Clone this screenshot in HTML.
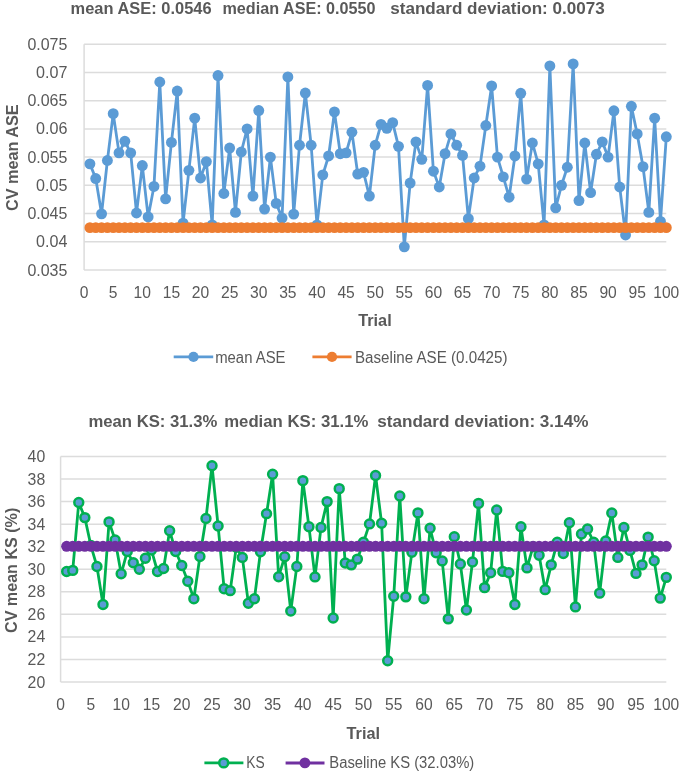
<!DOCTYPE html>
<html><head><meta charset="utf-8"><title>CV charts</title>
<style>html,body{margin:0;padding:0;background:#fff}svg{display:block}text{font-family:"Liberation Sans",sans-serif}</style></head><body>
<svg width="685" height="773" viewBox="0 0 685 773">
<rect width="685" height="773" fill="#fff"/>
<g style="filter:blur(0.45px)">
<line x1="84.1" x2="666.3" y1="44.20" y2="44.20" stroke="#DCDCDC" stroke-width="1.5"/>
<text x="67.4" y="49.80" font-size="15.7" text-anchor="end" font-weight="normal" fill="#595959" textLength="40.0" lengthAdjust="spacingAndGlyphs">0.075</text>
<line x1="84.1" x2="666.3" y1="72.43" y2="72.43" stroke="#DCDCDC" stroke-width="1.5"/>
<text x="67.4" y="78.03" font-size="15.7" text-anchor="end" font-weight="normal" fill="#595959" textLength="31.4" lengthAdjust="spacingAndGlyphs">0.07</text>
<line x1="84.1" x2="666.3" y1="100.65" y2="100.65" stroke="#DCDCDC" stroke-width="1.5"/>
<text x="67.4" y="106.25" font-size="15.7" text-anchor="end" font-weight="normal" fill="#595959" textLength="40.0" lengthAdjust="spacingAndGlyphs">0.065</text>
<line x1="84.1" x2="666.3" y1="128.88" y2="128.88" stroke="#DCDCDC" stroke-width="1.5"/>
<text x="67.4" y="134.47" font-size="15.7" text-anchor="end" font-weight="normal" fill="#595959" textLength="31.4" lengthAdjust="spacingAndGlyphs">0.06</text>
<line x1="84.1" x2="666.3" y1="157.10" y2="157.10" stroke="#DCDCDC" stroke-width="1.5"/>
<text x="67.4" y="162.70" font-size="15.7" text-anchor="end" font-weight="normal" fill="#595959" textLength="40.0" lengthAdjust="spacingAndGlyphs">0.055</text>
<line x1="84.1" x2="666.3" y1="185.32" y2="185.32" stroke="#DCDCDC" stroke-width="1.5"/>
<text x="67.4" y="190.92" font-size="15.7" text-anchor="end" font-weight="normal" fill="#595959" textLength="31.4" lengthAdjust="spacingAndGlyphs">0.05</text>
<line x1="84.1" x2="666.3" y1="213.55" y2="213.55" stroke="#DCDCDC" stroke-width="1.5"/>
<text x="67.4" y="219.15" font-size="15.7" text-anchor="end" font-weight="normal" fill="#595959" textLength="40.0" lengthAdjust="spacingAndGlyphs">0.045</text>
<line x1="84.1" x2="666.3" y1="241.78" y2="241.78" stroke="#DCDCDC" stroke-width="1.5"/>
<text x="67.4" y="247.38" font-size="15.7" text-anchor="end" font-weight="normal" fill="#595959" textLength="31.4" lengthAdjust="spacingAndGlyphs">0.04</text>
<line x1="84.1" x2="666.3" y1="270.00" y2="270.00" stroke="#DCDCDC" stroke-width="1.5"/>
<text x="67.4" y="275.60" font-size="15.7" text-anchor="end" font-weight="normal" fill="#595959" textLength="40.0" lengthAdjust="spacingAndGlyphs">0.035</text>
<line x1="84.1" x2="84.1" y1="44.2" y2="270.0" stroke="#DCDCDC" stroke-width="1.5"/>
<text x="84.10" y="297.7" font-size="15.7" text-anchor="middle" font-weight="normal" fill="#595959" textLength="8.7" lengthAdjust="spacingAndGlyphs">0</text>
<text x="113.21" y="297.7" font-size="15.7" text-anchor="middle" font-weight="normal" fill="#595959" textLength="8.7" lengthAdjust="spacingAndGlyphs">5</text>
<text x="142.32" y="297.7" font-size="15.7" text-anchor="middle" font-weight="normal" fill="#595959" textLength="17.4" lengthAdjust="spacingAndGlyphs">10</text>
<text x="171.43" y="297.7" font-size="15.7" text-anchor="middle" font-weight="normal" fill="#595959" textLength="17.4" lengthAdjust="spacingAndGlyphs">15</text>
<text x="200.54" y="297.7" font-size="15.7" text-anchor="middle" font-weight="normal" fill="#595959" textLength="17.4" lengthAdjust="spacingAndGlyphs">20</text>
<text x="229.65" y="297.7" font-size="15.7" text-anchor="middle" font-weight="normal" fill="#595959" textLength="17.4" lengthAdjust="spacingAndGlyphs">25</text>
<text x="258.76" y="297.7" font-size="15.7" text-anchor="middle" font-weight="normal" fill="#595959" textLength="17.4" lengthAdjust="spacingAndGlyphs">30</text>
<text x="287.87" y="297.7" font-size="15.7" text-anchor="middle" font-weight="normal" fill="#595959" textLength="17.4" lengthAdjust="spacingAndGlyphs">35</text>
<text x="316.98" y="297.7" font-size="15.7" text-anchor="middle" font-weight="normal" fill="#595959" textLength="17.4" lengthAdjust="spacingAndGlyphs">40</text>
<text x="346.09" y="297.7" font-size="15.7" text-anchor="middle" font-weight="normal" fill="#595959" textLength="17.4" lengthAdjust="spacingAndGlyphs">45</text>
<text x="375.20" y="297.7" font-size="15.7" text-anchor="middle" font-weight="normal" fill="#595959" textLength="17.4" lengthAdjust="spacingAndGlyphs">50</text>
<text x="404.31" y="297.7" font-size="15.7" text-anchor="middle" font-weight="normal" fill="#595959" textLength="17.4" lengthAdjust="spacingAndGlyphs">55</text>
<text x="433.42" y="297.7" font-size="15.7" text-anchor="middle" font-weight="normal" fill="#595959" textLength="17.4" lengthAdjust="spacingAndGlyphs">60</text>
<text x="462.53" y="297.7" font-size="15.7" text-anchor="middle" font-weight="normal" fill="#595959" textLength="17.4" lengthAdjust="spacingAndGlyphs">65</text>
<text x="491.64" y="297.7" font-size="15.7" text-anchor="middle" font-weight="normal" fill="#595959" textLength="17.4" lengthAdjust="spacingAndGlyphs">70</text>
<text x="520.75" y="297.7" font-size="15.7" text-anchor="middle" font-weight="normal" fill="#595959" textLength="17.4" lengthAdjust="spacingAndGlyphs">75</text>
<text x="549.86" y="297.7" font-size="15.7" text-anchor="middle" font-weight="normal" fill="#595959" textLength="17.4" lengthAdjust="spacingAndGlyphs">80</text>
<text x="578.97" y="297.7" font-size="15.7" text-anchor="middle" font-weight="normal" fill="#595959" textLength="17.4" lengthAdjust="spacingAndGlyphs">85</text>
<text x="608.08" y="297.7" font-size="15.7" text-anchor="middle" font-weight="normal" fill="#595959" textLength="17.4" lengthAdjust="spacingAndGlyphs">90</text>
<text x="637.19" y="297.7" font-size="15.7" text-anchor="middle" font-weight="normal" fill="#595959" textLength="17.4" lengthAdjust="spacingAndGlyphs">95</text>
<text x="666.30" y="297.7" font-size="15.7" text-anchor="middle" font-weight="normal" fill="#595959" textLength="26" lengthAdjust="spacingAndGlyphs">100</text>
<polyline points="89.92,163.87 95.74,178.55 101.57,213.83 107.39,160.49 113.21,113.63 119.03,152.87 124.85,141.29 130.68,152.87 136.50,212.99 142.32,165.57 148.14,216.94 153.96,186.45 159.79,82.02 165.61,198.87 171.43,142.42 177.25,91.05 183.07,223.15 188.90,170.37 194.72,118.15 200.54,177.99 206.36,161.62 212.18,224.84 218.01,75.53 223.83,193.51 229.65,148.07 235.47,212.42 241.29,152.02 247.12,128.88 252.94,196.05 258.76,110.53 264.58,209.03 270.40,157.10 276.23,203.39 282.05,218.07 287.87,76.94 293.69,214.11 299.51,145.25 305.34,93.03 311.16,145.25 316.98,224.84 322.80,174.83 328.62,155.97 334.45,111.94 340.27,153.71 346.09,152.87 351.91,132.26 357.73,174.04 363.56,172.34 369.38,196.05 375.20,145.25 381.02,124.36 386.84,128.31 392.67,122.67 398.49,146.37 404.31,246.86 410.13,183.07 415.95,141.86 421.78,159.36 427.60,85.41 433.42,171.21 439.24,187.02 445.06,153.71 450.89,133.96 456.71,145.25 462.53,155.41 468.35,218.63 474.17,177.99 480.00,166.13 485.82,125.49 491.64,85.97 497.46,157.10 503.28,176.86 509.11,197.18 514.93,155.97 520.75,93.31 526.57,179.12 532.39,142.99 538.22,163.87 544.04,224.84 549.86,65.93 555.68,207.91 561.50,185.32 567.33,167.26 573.15,63.96 578.97,200.57 584.79,142.99 590.61,192.66 596.44,154.28 602.26,141.86 608.08,157.10 613.90,110.81 619.72,187.02 625.55,235.00 631.37,106.29 637.19,133.96 643.01,166.70 648.83,212.42 654.66,118.15 660.48,221.45 666.30,136.78" fill="none" stroke="#5B9BD5" stroke-width="2.8" stroke-linejoin="round"/>
<circle cx="89.92" cy="163.87" r="5.45" fill="#5B9BD5"/>
<circle cx="95.74" cy="178.55" r="5.45" fill="#5B9BD5"/>
<circle cx="101.57" cy="213.83" r="5.45" fill="#5B9BD5"/>
<circle cx="107.39" cy="160.49" r="5.45" fill="#5B9BD5"/>
<circle cx="113.21" cy="113.63" r="5.45" fill="#5B9BD5"/>
<circle cx="119.03" cy="152.87" r="5.45" fill="#5B9BD5"/>
<circle cx="124.85" cy="141.29" r="5.45" fill="#5B9BD5"/>
<circle cx="130.68" cy="152.87" r="5.45" fill="#5B9BD5"/>
<circle cx="136.50" cy="212.99" r="5.45" fill="#5B9BD5"/>
<circle cx="142.32" cy="165.57" r="5.45" fill="#5B9BD5"/>
<circle cx="148.14" cy="216.94" r="5.45" fill="#5B9BD5"/>
<circle cx="153.96" cy="186.45" r="5.45" fill="#5B9BD5"/>
<circle cx="159.79" cy="82.02" r="5.45" fill="#5B9BD5"/>
<circle cx="165.61" cy="198.87" r="5.45" fill="#5B9BD5"/>
<circle cx="171.43" cy="142.42" r="5.45" fill="#5B9BD5"/>
<circle cx="177.25" cy="91.05" r="5.45" fill="#5B9BD5"/>
<circle cx="183.07" cy="223.15" r="5.45" fill="#5B9BD5"/>
<circle cx="188.90" cy="170.37" r="5.45" fill="#5B9BD5"/>
<circle cx="194.72" cy="118.15" r="5.45" fill="#5B9BD5"/>
<circle cx="200.54" cy="177.99" r="5.45" fill="#5B9BD5"/>
<circle cx="206.36" cy="161.62" r="5.45" fill="#5B9BD5"/>
<circle cx="212.18" cy="224.84" r="5.45" fill="#5B9BD5"/>
<circle cx="218.01" cy="75.53" r="5.45" fill="#5B9BD5"/>
<circle cx="223.83" cy="193.51" r="5.45" fill="#5B9BD5"/>
<circle cx="229.65" cy="148.07" r="5.45" fill="#5B9BD5"/>
<circle cx="235.47" cy="212.42" r="5.45" fill="#5B9BD5"/>
<circle cx="241.29" cy="152.02" r="5.45" fill="#5B9BD5"/>
<circle cx="247.12" cy="128.88" r="5.45" fill="#5B9BD5"/>
<circle cx="252.94" cy="196.05" r="5.45" fill="#5B9BD5"/>
<circle cx="258.76" cy="110.53" r="5.45" fill="#5B9BD5"/>
<circle cx="264.58" cy="209.03" r="5.45" fill="#5B9BD5"/>
<circle cx="270.40" cy="157.10" r="5.45" fill="#5B9BD5"/>
<circle cx="276.23" cy="203.39" r="5.45" fill="#5B9BD5"/>
<circle cx="282.05" cy="218.07" r="5.45" fill="#5B9BD5"/>
<circle cx="287.87" cy="76.94" r="5.45" fill="#5B9BD5"/>
<circle cx="293.69" cy="214.11" r="5.45" fill="#5B9BD5"/>
<circle cx="299.51" cy="145.25" r="5.45" fill="#5B9BD5"/>
<circle cx="305.34" cy="93.03" r="5.45" fill="#5B9BD5"/>
<circle cx="311.16" cy="145.25" r="5.45" fill="#5B9BD5"/>
<circle cx="316.98" cy="224.84" r="5.45" fill="#5B9BD5"/>
<circle cx="322.80" cy="174.83" r="5.45" fill="#5B9BD5"/>
<circle cx="328.62" cy="155.97" r="5.45" fill="#5B9BD5"/>
<circle cx="334.45" cy="111.94" r="5.45" fill="#5B9BD5"/>
<circle cx="340.27" cy="153.71" r="5.45" fill="#5B9BD5"/>
<circle cx="346.09" cy="152.87" r="5.45" fill="#5B9BD5"/>
<circle cx="351.91" cy="132.26" r="5.45" fill="#5B9BD5"/>
<circle cx="357.73" cy="174.04" r="5.45" fill="#5B9BD5"/>
<circle cx="363.56" cy="172.34" r="5.45" fill="#5B9BD5"/>
<circle cx="369.38" cy="196.05" r="5.45" fill="#5B9BD5"/>
<circle cx="375.20" cy="145.25" r="5.45" fill="#5B9BD5"/>
<circle cx="381.02" cy="124.36" r="5.45" fill="#5B9BD5"/>
<circle cx="386.84" cy="128.31" r="5.45" fill="#5B9BD5"/>
<circle cx="392.67" cy="122.67" r="5.45" fill="#5B9BD5"/>
<circle cx="398.49" cy="146.37" r="5.45" fill="#5B9BD5"/>
<circle cx="404.31" cy="246.86" r="5.45" fill="#5B9BD5"/>
<circle cx="410.13" cy="183.07" r="5.45" fill="#5B9BD5"/>
<circle cx="415.95" cy="141.86" r="5.45" fill="#5B9BD5"/>
<circle cx="421.78" cy="159.36" r="5.45" fill="#5B9BD5"/>
<circle cx="427.60" cy="85.41" r="5.45" fill="#5B9BD5"/>
<circle cx="433.42" cy="171.21" r="5.45" fill="#5B9BD5"/>
<circle cx="439.24" cy="187.02" r="5.45" fill="#5B9BD5"/>
<circle cx="445.06" cy="153.71" r="5.45" fill="#5B9BD5"/>
<circle cx="450.89" cy="133.96" r="5.45" fill="#5B9BD5"/>
<circle cx="456.71" cy="145.25" r="5.45" fill="#5B9BD5"/>
<circle cx="462.53" cy="155.41" r="5.45" fill="#5B9BD5"/>
<circle cx="468.35" cy="218.63" r="5.45" fill="#5B9BD5"/>
<circle cx="474.17" cy="177.99" r="5.45" fill="#5B9BD5"/>
<circle cx="480.00" cy="166.13" r="5.45" fill="#5B9BD5"/>
<circle cx="485.82" cy="125.49" r="5.45" fill="#5B9BD5"/>
<circle cx="491.64" cy="85.97" r="5.45" fill="#5B9BD5"/>
<circle cx="497.46" cy="157.10" r="5.45" fill="#5B9BD5"/>
<circle cx="503.28" cy="176.86" r="5.45" fill="#5B9BD5"/>
<circle cx="509.11" cy="197.18" r="5.45" fill="#5B9BD5"/>
<circle cx="514.93" cy="155.97" r="5.45" fill="#5B9BD5"/>
<circle cx="520.75" cy="93.31" r="5.45" fill="#5B9BD5"/>
<circle cx="526.57" cy="179.12" r="5.45" fill="#5B9BD5"/>
<circle cx="532.39" cy="142.99" r="5.45" fill="#5B9BD5"/>
<circle cx="538.22" cy="163.87" r="5.45" fill="#5B9BD5"/>
<circle cx="544.04" cy="224.84" r="5.45" fill="#5B9BD5"/>
<circle cx="549.86" cy="65.93" r="5.45" fill="#5B9BD5"/>
<circle cx="555.68" cy="207.91" r="5.45" fill="#5B9BD5"/>
<circle cx="561.50" cy="185.32" r="5.45" fill="#5B9BD5"/>
<circle cx="567.33" cy="167.26" r="5.45" fill="#5B9BD5"/>
<circle cx="573.15" cy="63.96" r="5.45" fill="#5B9BD5"/>
<circle cx="578.97" cy="200.57" r="5.45" fill="#5B9BD5"/>
<circle cx="584.79" cy="142.99" r="5.45" fill="#5B9BD5"/>
<circle cx="590.61" cy="192.66" r="5.45" fill="#5B9BD5"/>
<circle cx="596.44" cy="154.28" r="5.45" fill="#5B9BD5"/>
<circle cx="602.26" cy="141.86" r="5.45" fill="#5B9BD5"/>
<circle cx="608.08" cy="157.10" r="5.45" fill="#5B9BD5"/>
<circle cx="613.90" cy="110.81" r="5.45" fill="#5B9BD5"/>
<circle cx="619.72" cy="187.02" r="5.45" fill="#5B9BD5"/>
<circle cx="625.55" cy="235.00" r="5.45" fill="#5B9BD5"/>
<circle cx="631.37" cy="106.29" r="5.45" fill="#5B9BD5"/>
<circle cx="637.19" cy="133.96" r="5.45" fill="#5B9BD5"/>
<circle cx="643.01" cy="166.70" r="5.45" fill="#5B9BD5"/>
<circle cx="648.83" cy="212.42" r="5.45" fill="#5B9BD5"/>
<circle cx="654.66" cy="118.15" r="5.45" fill="#5B9BD5"/>
<circle cx="660.48" cy="221.45" r="5.45" fill="#5B9BD5"/>
<circle cx="666.30" cy="136.78" r="5.45" fill="#5B9BD5"/>
<line x1="89.92" x2="666.30" y1="227.66" y2="227.66" stroke="#ED7D31" stroke-width="3"/>
<circle cx="89.92" cy="227.66" r="5.45" fill="#ED7D31"/>
<circle cx="95.74" cy="227.66" r="5.45" fill="#ED7D31"/>
<circle cx="101.57" cy="227.66" r="5.45" fill="#ED7D31"/>
<circle cx="107.39" cy="227.66" r="5.45" fill="#ED7D31"/>
<circle cx="113.21" cy="227.66" r="5.45" fill="#ED7D31"/>
<circle cx="119.03" cy="227.66" r="5.45" fill="#ED7D31"/>
<circle cx="124.85" cy="227.66" r="5.45" fill="#ED7D31"/>
<circle cx="130.68" cy="227.66" r="5.45" fill="#ED7D31"/>
<circle cx="136.50" cy="227.66" r="5.45" fill="#ED7D31"/>
<circle cx="142.32" cy="227.66" r="5.45" fill="#ED7D31"/>
<circle cx="148.14" cy="227.66" r="5.45" fill="#ED7D31"/>
<circle cx="153.96" cy="227.66" r="5.45" fill="#ED7D31"/>
<circle cx="159.79" cy="227.66" r="5.45" fill="#ED7D31"/>
<circle cx="165.61" cy="227.66" r="5.45" fill="#ED7D31"/>
<circle cx="171.43" cy="227.66" r="5.45" fill="#ED7D31"/>
<circle cx="177.25" cy="227.66" r="5.45" fill="#ED7D31"/>
<circle cx="183.07" cy="227.66" r="5.45" fill="#ED7D31"/>
<circle cx="188.90" cy="227.66" r="5.45" fill="#ED7D31"/>
<circle cx="194.72" cy="227.66" r="5.45" fill="#ED7D31"/>
<circle cx="200.54" cy="227.66" r="5.45" fill="#ED7D31"/>
<circle cx="206.36" cy="227.66" r="5.45" fill="#ED7D31"/>
<circle cx="212.18" cy="227.66" r="5.45" fill="#ED7D31"/>
<circle cx="218.01" cy="227.66" r="5.45" fill="#ED7D31"/>
<circle cx="223.83" cy="227.66" r="5.45" fill="#ED7D31"/>
<circle cx="229.65" cy="227.66" r="5.45" fill="#ED7D31"/>
<circle cx="235.47" cy="227.66" r="5.45" fill="#ED7D31"/>
<circle cx="241.29" cy="227.66" r="5.45" fill="#ED7D31"/>
<circle cx="247.12" cy="227.66" r="5.45" fill="#ED7D31"/>
<circle cx="252.94" cy="227.66" r="5.45" fill="#ED7D31"/>
<circle cx="258.76" cy="227.66" r="5.45" fill="#ED7D31"/>
<circle cx="264.58" cy="227.66" r="5.45" fill="#ED7D31"/>
<circle cx="270.40" cy="227.66" r="5.45" fill="#ED7D31"/>
<circle cx="276.23" cy="227.66" r="5.45" fill="#ED7D31"/>
<circle cx="282.05" cy="227.66" r="5.45" fill="#ED7D31"/>
<circle cx="287.87" cy="227.66" r="5.45" fill="#ED7D31"/>
<circle cx="293.69" cy="227.66" r="5.45" fill="#ED7D31"/>
<circle cx="299.51" cy="227.66" r="5.45" fill="#ED7D31"/>
<circle cx="305.34" cy="227.66" r="5.45" fill="#ED7D31"/>
<circle cx="311.16" cy="227.66" r="5.45" fill="#ED7D31"/>
<circle cx="316.98" cy="227.66" r="5.45" fill="#ED7D31"/>
<circle cx="322.80" cy="227.66" r="5.45" fill="#ED7D31"/>
<circle cx="328.62" cy="227.66" r="5.45" fill="#ED7D31"/>
<circle cx="334.45" cy="227.66" r="5.45" fill="#ED7D31"/>
<circle cx="340.27" cy="227.66" r="5.45" fill="#ED7D31"/>
<circle cx="346.09" cy="227.66" r="5.45" fill="#ED7D31"/>
<circle cx="351.91" cy="227.66" r="5.45" fill="#ED7D31"/>
<circle cx="357.73" cy="227.66" r="5.45" fill="#ED7D31"/>
<circle cx="363.56" cy="227.66" r="5.45" fill="#ED7D31"/>
<circle cx="369.38" cy="227.66" r="5.45" fill="#ED7D31"/>
<circle cx="375.20" cy="227.66" r="5.45" fill="#ED7D31"/>
<circle cx="381.02" cy="227.66" r="5.45" fill="#ED7D31"/>
<circle cx="386.84" cy="227.66" r="5.45" fill="#ED7D31"/>
<circle cx="392.67" cy="227.66" r="5.45" fill="#ED7D31"/>
<circle cx="398.49" cy="227.66" r="5.45" fill="#ED7D31"/>
<circle cx="404.31" cy="227.66" r="5.45" fill="#ED7D31"/>
<circle cx="410.13" cy="227.66" r="5.45" fill="#ED7D31"/>
<circle cx="415.95" cy="227.66" r="5.45" fill="#ED7D31"/>
<circle cx="421.78" cy="227.66" r="5.45" fill="#ED7D31"/>
<circle cx="427.60" cy="227.66" r="5.45" fill="#ED7D31"/>
<circle cx="433.42" cy="227.66" r="5.45" fill="#ED7D31"/>
<circle cx="439.24" cy="227.66" r="5.45" fill="#ED7D31"/>
<circle cx="445.06" cy="227.66" r="5.45" fill="#ED7D31"/>
<circle cx="450.89" cy="227.66" r="5.45" fill="#ED7D31"/>
<circle cx="456.71" cy="227.66" r="5.45" fill="#ED7D31"/>
<circle cx="462.53" cy="227.66" r="5.45" fill="#ED7D31"/>
<circle cx="468.35" cy="227.66" r="5.45" fill="#ED7D31"/>
<circle cx="474.17" cy="227.66" r="5.45" fill="#ED7D31"/>
<circle cx="480.00" cy="227.66" r="5.45" fill="#ED7D31"/>
<circle cx="485.82" cy="227.66" r="5.45" fill="#ED7D31"/>
<circle cx="491.64" cy="227.66" r="5.45" fill="#ED7D31"/>
<circle cx="497.46" cy="227.66" r="5.45" fill="#ED7D31"/>
<circle cx="503.28" cy="227.66" r="5.45" fill="#ED7D31"/>
<circle cx="509.11" cy="227.66" r="5.45" fill="#ED7D31"/>
<circle cx="514.93" cy="227.66" r="5.45" fill="#ED7D31"/>
<circle cx="520.75" cy="227.66" r="5.45" fill="#ED7D31"/>
<circle cx="526.57" cy="227.66" r="5.45" fill="#ED7D31"/>
<circle cx="532.39" cy="227.66" r="5.45" fill="#ED7D31"/>
<circle cx="538.22" cy="227.66" r="5.45" fill="#ED7D31"/>
<circle cx="544.04" cy="227.66" r="5.45" fill="#ED7D31"/>
<circle cx="549.86" cy="227.66" r="5.45" fill="#ED7D31"/>
<circle cx="555.68" cy="227.66" r="5.45" fill="#ED7D31"/>
<circle cx="561.50" cy="227.66" r="5.45" fill="#ED7D31"/>
<circle cx="567.33" cy="227.66" r="5.45" fill="#ED7D31"/>
<circle cx="573.15" cy="227.66" r="5.45" fill="#ED7D31"/>
<circle cx="578.97" cy="227.66" r="5.45" fill="#ED7D31"/>
<circle cx="584.79" cy="227.66" r="5.45" fill="#ED7D31"/>
<circle cx="590.61" cy="227.66" r="5.45" fill="#ED7D31"/>
<circle cx="596.44" cy="227.66" r="5.45" fill="#ED7D31"/>
<circle cx="602.26" cy="227.66" r="5.45" fill="#ED7D31"/>
<circle cx="608.08" cy="227.66" r="5.45" fill="#ED7D31"/>
<circle cx="613.90" cy="227.66" r="5.45" fill="#ED7D31"/>
<circle cx="619.72" cy="227.66" r="5.45" fill="#ED7D31"/>
<circle cx="625.55" cy="227.66" r="5.45" fill="#ED7D31"/>
<circle cx="631.37" cy="227.66" r="5.45" fill="#ED7D31"/>
<circle cx="637.19" cy="227.66" r="5.45" fill="#ED7D31"/>
<circle cx="643.01" cy="227.66" r="5.45" fill="#ED7D31"/>
<circle cx="648.83" cy="227.66" r="5.45" fill="#ED7D31"/>
<circle cx="654.66" cy="227.66" r="5.45" fill="#ED7D31"/>
<circle cx="660.48" cy="227.66" r="5.45" fill="#ED7D31"/>
<circle cx="666.30" cy="227.66" r="5.45" fill="#ED7D31"/>
<text x="70.6" y="14.4" font-size="15.8" text-anchor="start" font-weight="bold" fill="#595959" textLength="141" lengthAdjust="spacingAndGlyphs">mean ASE: 0.0546</text>
<text x="222.5" y="14.4" font-size="15.8" text-anchor="start" font-weight="bold" fill="#595959" textLength="153" lengthAdjust="spacingAndGlyphs">median ASE: 0.0550</text>
<text x="390.2" y="14.4" font-size="15.8" text-anchor="start" font-weight="bold" fill="#595959" textLength="214.6" lengthAdjust="spacingAndGlyphs">standard deviation: 0.0073</text>
<text x="358.2" y="326.3" font-size="15.8" text-anchor="start" font-weight="bold" fill="#595959" textLength="33.5" lengthAdjust="spacingAndGlyphs">Trial</text>
<text transform="translate(17.6,211) rotate(-90)" font-size="15.8" font-weight="bold" fill="#595959" textLength="106.5" lengthAdjust="spacingAndGlyphs">CV mean ASE</text>
<line x1="173.7" x2="213.2" y1="356.9" y2="356.9" stroke="#5B9BD5" stroke-width="2.9"/><circle cx="193.5" cy="356.9" r="5.1" fill="#5B9BD5"/>
<text x="215.2" y="362.6" font-size="15.6" text-anchor="start" font-weight="normal" fill="#595959" textLength="70.3" lengthAdjust="spacingAndGlyphs">mean ASE</text>
<line x1="312.4" x2="351.6" y1="356.9" y2="356.9" stroke="#ED7D31" stroke-width="2.9"/><circle cx="332" cy="356.9" r="5.1" fill="#ED7D31"/>
<text x="355" y="362.6" font-size="15.6" text-anchor="start" font-weight="normal" fill="#595959" textLength="152.5" lengthAdjust="spacingAndGlyphs">Baseline ASE (0.0425)</text>
<line x1="60.6" x2="666.3" y1="456.50" y2="456.50" stroke="#DCDCDC" stroke-width="1.5"/>
<text x="45.2" y="462.00" font-size="15.7" text-anchor="end" font-weight="normal" fill="#595959" textLength="17.6" lengthAdjust="spacingAndGlyphs">40</text>
<line x1="60.6" x2="666.3" y1="479.05" y2="479.05" stroke="#DCDCDC" stroke-width="1.5"/>
<text x="45.2" y="484.55" font-size="15.7" text-anchor="end" font-weight="normal" fill="#595959" textLength="17.6" lengthAdjust="spacingAndGlyphs">38</text>
<line x1="60.6" x2="666.3" y1="501.60" y2="501.60" stroke="#DCDCDC" stroke-width="1.5"/>
<text x="45.2" y="507.10" font-size="15.7" text-anchor="end" font-weight="normal" fill="#595959" textLength="17.6" lengthAdjust="spacingAndGlyphs">36</text>
<line x1="60.6" x2="666.3" y1="524.15" y2="524.15" stroke="#DCDCDC" stroke-width="1.5"/>
<text x="45.2" y="529.65" font-size="15.7" text-anchor="end" font-weight="normal" fill="#595959" textLength="17.6" lengthAdjust="spacingAndGlyphs">34</text>
<line x1="60.6" x2="666.3" y1="546.70" y2="546.70" stroke="#DCDCDC" stroke-width="1.5"/>
<text x="45.2" y="552.20" font-size="15.7" text-anchor="end" font-weight="normal" fill="#595959" textLength="17.6" lengthAdjust="spacingAndGlyphs">32</text>
<line x1="60.6" x2="666.3" y1="569.25" y2="569.25" stroke="#DCDCDC" stroke-width="1.5"/>
<text x="45.2" y="574.75" font-size="15.7" text-anchor="end" font-weight="normal" fill="#595959" textLength="17.6" lengthAdjust="spacingAndGlyphs">30</text>
<line x1="60.6" x2="666.3" y1="591.80" y2="591.80" stroke="#DCDCDC" stroke-width="1.5"/>
<text x="45.2" y="597.30" font-size="15.7" text-anchor="end" font-weight="normal" fill="#595959" textLength="17.6" lengthAdjust="spacingAndGlyphs">28</text>
<line x1="60.6" x2="666.3" y1="614.35" y2="614.35" stroke="#DCDCDC" stroke-width="1.5"/>
<text x="45.2" y="619.85" font-size="15.7" text-anchor="end" font-weight="normal" fill="#595959" textLength="17.6" lengthAdjust="spacingAndGlyphs">26</text>
<line x1="60.6" x2="666.3" y1="636.90" y2="636.90" stroke="#DCDCDC" stroke-width="1.5"/>
<text x="45.2" y="642.40" font-size="15.7" text-anchor="end" font-weight="normal" fill="#595959" textLength="17.6" lengthAdjust="spacingAndGlyphs">24</text>
<line x1="60.6" x2="666.3" y1="659.45" y2="659.45" stroke="#DCDCDC" stroke-width="1.5"/>
<text x="45.2" y="664.95" font-size="15.7" text-anchor="end" font-weight="normal" fill="#595959" textLength="17.6" lengthAdjust="spacingAndGlyphs">22</text>
<line x1="60.6" x2="666.3" y1="682.00" y2="682.00" stroke="#DCDCDC" stroke-width="1.5"/>
<text x="45.2" y="687.50" font-size="15.7" text-anchor="end" font-weight="normal" fill="#595959" textLength="17.6" lengthAdjust="spacingAndGlyphs">20</text>
<line x1="60.6" x2="60.6" y1="456.5" y2="682.0" stroke="#DCDCDC" stroke-width="1.5"/>
<text x="60.60" y="710.1" font-size="15.7" text-anchor="middle" font-weight="normal" fill="#595959" textLength="8.7" lengthAdjust="spacingAndGlyphs">0</text>
<text x="90.88" y="710.1" font-size="15.7" text-anchor="middle" font-weight="normal" fill="#595959" textLength="8.7" lengthAdjust="spacingAndGlyphs">5</text>
<text x="121.17" y="710.1" font-size="15.7" text-anchor="middle" font-weight="normal" fill="#595959" textLength="17.4" lengthAdjust="spacingAndGlyphs">10</text>
<text x="151.45" y="710.1" font-size="15.7" text-anchor="middle" font-weight="normal" fill="#595959" textLength="17.4" lengthAdjust="spacingAndGlyphs">15</text>
<text x="181.74" y="710.1" font-size="15.7" text-anchor="middle" font-weight="normal" fill="#595959" textLength="17.4" lengthAdjust="spacingAndGlyphs">20</text>
<text x="212.02" y="710.1" font-size="15.7" text-anchor="middle" font-weight="normal" fill="#595959" textLength="17.4" lengthAdjust="spacingAndGlyphs">25</text>
<text x="242.31" y="710.1" font-size="15.7" text-anchor="middle" font-weight="normal" fill="#595959" textLength="17.4" lengthAdjust="spacingAndGlyphs">30</text>
<text x="272.59" y="710.1" font-size="15.7" text-anchor="middle" font-weight="normal" fill="#595959" textLength="17.4" lengthAdjust="spacingAndGlyphs">35</text>
<text x="302.88" y="710.1" font-size="15.7" text-anchor="middle" font-weight="normal" fill="#595959" textLength="17.4" lengthAdjust="spacingAndGlyphs">40</text>
<text x="333.16" y="710.1" font-size="15.7" text-anchor="middle" font-weight="normal" fill="#595959" textLength="17.4" lengthAdjust="spacingAndGlyphs">45</text>
<text x="363.45" y="710.1" font-size="15.7" text-anchor="middle" font-weight="normal" fill="#595959" textLength="17.4" lengthAdjust="spacingAndGlyphs">50</text>
<text x="393.73" y="710.1" font-size="15.7" text-anchor="middle" font-weight="normal" fill="#595959" textLength="17.4" lengthAdjust="spacingAndGlyphs">55</text>
<text x="424.02" y="710.1" font-size="15.7" text-anchor="middle" font-weight="normal" fill="#595959" textLength="17.4" lengthAdjust="spacingAndGlyphs">60</text>
<text x="454.30" y="710.1" font-size="15.7" text-anchor="middle" font-weight="normal" fill="#595959" textLength="17.4" lengthAdjust="spacingAndGlyphs">65</text>
<text x="484.59" y="710.1" font-size="15.7" text-anchor="middle" font-weight="normal" fill="#595959" textLength="17.4" lengthAdjust="spacingAndGlyphs">70</text>
<text x="514.87" y="710.1" font-size="15.7" text-anchor="middle" font-weight="normal" fill="#595959" textLength="17.4" lengthAdjust="spacingAndGlyphs">75</text>
<text x="545.16" y="710.1" font-size="15.7" text-anchor="middle" font-weight="normal" fill="#595959" textLength="17.4" lengthAdjust="spacingAndGlyphs">80</text>
<text x="575.44" y="710.1" font-size="15.7" text-anchor="middle" font-weight="normal" fill="#595959" textLength="17.4" lengthAdjust="spacingAndGlyphs">85</text>
<text x="605.73" y="710.1" font-size="15.7" text-anchor="middle" font-weight="normal" fill="#595959" textLength="17.4" lengthAdjust="spacingAndGlyphs">90</text>
<text x="636.01" y="710.1" font-size="15.7" text-anchor="middle" font-weight="normal" fill="#595959" textLength="17.4" lengthAdjust="spacingAndGlyphs">95</text>
<text x="666.30" y="710.1" font-size="15.7" text-anchor="middle" font-weight="normal" fill="#595959" textLength="26" lengthAdjust="spacingAndGlyphs">100</text>
<polyline points="66.66,571.50 72.71,570.38 78.77,502.50 84.83,517.61 90.88,545.57 96.94,566.43 103.00,604.54 109.06,521.89 115.11,539.93 121.17,573.76 127.23,551.55 133.28,562.71 139.34,569.25 145.40,558.31 151.45,550.08 157.51,571.50 163.57,568.57 169.63,530.69 175.68,551.55 181.74,565.53 187.80,581.31 193.85,598.79 199.91,556.51 205.97,518.51 212.02,465.75 218.08,525.95 224.14,588.76 230.20,590.67 236.25,547.26 242.31,557.41 248.37,603.19 254.42,598.79 260.48,551.77 266.54,513.66 272.59,474.20 278.65,576.69 284.71,556.73 290.77,611.08 296.82,566.43 302.88,480.63 308.94,526.74 314.99,576.92 321.05,527.42 327.11,501.60 333.16,618.07 339.22,488.63 345.28,562.94 351.34,564.85 357.39,559.10 363.45,542.19 369.51,523.92 375.56,475.55 381.62,523.25 387.68,660.80 393.73,596.31 399.79,495.96 405.85,596.87 411.91,552.34 417.96,512.88 424.02,598.79 430.08,528.32 436.13,552.79 442.19,560.91 448.25,618.86 454.30,536.67 460.36,563.95 466.42,609.95 472.48,562.03 478.53,503.40 484.59,587.63 490.65,572.75 496.70,509.94 502.76,571.39 508.82,572.75 514.87,604.54 520.93,526.74 526.99,567.90 533.05,546.70 539.10,555.27 545.16,589.66 551.22,564.85 557.27,542.19 563.33,553.47 569.39,522.80 575.44,606.91 581.50,533.96 587.56,529.00 593.62,542.19 599.67,593.15 605.73,541.06 611.79,512.99 617.84,557.41 623.90,527.42 629.96,550.42 636.01,573.42 642.07,564.85 648.13,537.12 654.19,560.68 660.24,598.11 666.30,577.37" fill="none" stroke="#00B050" stroke-width="2.8" stroke-linejoin="round"/>
<circle cx="66.66" cy="571.50" r="4.45" fill="#5B9BD5" stroke="#00B050" stroke-width="2.5"/>
<circle cx="72.71" cy="570.38" r="4.45" fill="#5B9BD5" stroke="#00B050" stroke-width="2.5"/>
<circle cx="78.77" cy="502.50" r="4.45" fill="#5B9BD5" stroke="#00B050" stroke-width="2.5"/>
<circle cx="84.83" cy="517.61" r="4.45" fill="#5B9BD5" stroke="#00B050" stroke-width="2.5"/>
<circle cx="90.88" cy="545.57" r="4.45" fill="#5B9BD5" stroke="#00B050" stroke-width="2.5"/>
<circle cx="96.94" cy="566.43" r="4.45" fill="#5B9BD5" stroke="#00B050" stroke-width="2.5"/>
<circle cx="103.00" cy="604.54" r="4.45" fill="#5B9BD5" stroke="#00B050" stroke-width="2.5"/>
<circle cx="109.06" cy="521.89" r="4.45" fill="#5B9BD5" stroke="#00B050" stroke-width="2.5"/>
<circle cx="115.11" cy="539.93" r="4.45" fill="#5B9BD5" stroke="#00B050" stroke-width="2.5"/>
<circle cx="121.17" cy="573.76" r="4.45" fill="#5B9BD5" stroke="#00B050" stroke-width="2.5"/>
<circle cx="127.23" cy="551.55" r="4.45" fill="#5B9BD5" stroke="#00B050" stroke-width="2.5"/>
<circle cx="133.28" cy="562.71" r="4.45" fill="#5B9BD5" stroke="#00B050" stroke-width="2.5"/>
<circle cx="139.34" cy="569.25" r="4.45" fill="#5B9BD5" stroke="#00B050" stroke-width="2.5"/>
<circle cx="145.40" cy="558.31" r="4.45" fill="#5B9BD5" stroke="#00B050" stroke-width="2.5"/>
<circle cx="151.45" cy="550.08" r="4.45" fill="#5B9BD5" stroke="#00B050" stroke-width="2.5"/>
<circle cx="157.51" cy="571.50" r="4.45" fill="#5B9BD5" stroke="#00B050" stroke-width="2.5"/>
<circle cx="163.57" cy="568.57" r="4.45" fill="#5B9BD5" stroke="#00B050" stroke-width="2.5"/>
<circle cx="169.63" cy="530.69" r="4.45" fill="#5B9BD5" stroke="#00B050" stroke-width="2.5"/>
<circle cx="175.68" cy="551.55" r="4.45" fill="#5B9BD5" stroke="#00B050" stroke-width="2.5"/>
<circle cx="181.74" cy="565.53" r="4.45" fill="#5B9BD5" stroke="#00B050" stroke-width="2.5"/>
<circle cx="187.80" cy="581.31" r="4.45" fill="#5B9BD5" stroke="#00B050" stroke-width="2.5"/>
<circle cx="193.85" cy="598.79" r="4.45" fill="#5B9BD5" stroke="#00B050" stroke-width="2.5"/>
<circle cx="199.91" cy="556.51" r="4.45" fill="#5B9BD5" stroke="#00B050" stroke-width="2.5"/>
<circle cx="205.97" cy="518.51" r="4.45" fill="#5B9BD5" stroke="#00B050" stroke-width="2.5"/>
<circle cx="212.02" cy="465.75" r="4.45" fill="#5B9BD5" stroke="#00B050" stroke-width="2.5"/>
<circle cx="218.08" cy="525.95" r="4.45" fill="#5B9BD5" stroke="#00B050" stroke-width="2.5"/>
<circle cx="224.14" cy="588.76" r="4.45" fill="#5B9BD5" stroke="#00B050" stroke-width="2.5"/>
<circle cx="230.20" cy="590.67" r="4.45" fill="#5B9BD5" stroke="#00B050" stroke-width="2.5"/>
<circle cx="236.25" cy="547.26" r="4.45" fill="#5B9BD5" stroke="#00B050" stroke-width="2.5"/>
<circle cx="242.31" cy="557.41" r="4.45" fill="#5B9BD5" stroke="#00B050" stroke-width="2.5"/>
<circle cx="248.37" cy="603.19" r="4.45" fill="#5B9BD5" stroke="#00B050" stroke-width="2.5"/>
<circle cx="254.42" cy="598.79" r="4.45" fill="#5B9BD5" stroke="#00B050" stroke-width="2.5"/>
<circle cx="260.48" cy="551.77" r="4.45" fill="#5B9BD5" stroke="#00B050" stroke-width="2.5"/>
<circle cx="266.54" cy="513.66" r="4.45" fill="#5B9BD5" stroke="#00B050" stroke-width="2.5"/>
<circle cx="272.59" cy="474.20" r="4.45" fill="#5B9BD5" stroke="#00B050" stroke-width="2.5"/>
<circle cx="278.65" cy="576.69" r="4.45" fill="#5B9BD5" stroke="#00B050" stroke-width="2.5"/>
<circle cx="284.71" cy="556.73" r="4.45" fill="#5B9BD5" stroke="#00B050" stroke-width="2.5"/>
<circle cx="290.77" cy="611.08" r="4.45" fill="#5B9BD5" stroke="#00B050" stroke-width="2.5"/>
<circle cx="296.82" cy="566.43" r="4.45" fill="#5B9BD5" stroke="#00B050" stroke-width="2.5"/>
<circle cx="302.88" cy="480.63" r="4.45" fill="#5B9BD5" stroke="#00B050" stroke-width="2.5"/>
<circle cx="308.94" cy="526.74" r="4.45" fill="#5B9BD5" stroke="#00B050" stroke-width="2.5"/>
<circle cx="314.99" cy="576.92" r="4.45" fill="#5B9BD5" stroke="#00B050" stroke-width="2.5"/>
<circle cx="321.05" cy="527.42" r="4.45" fill="#5B9BD5" stroke="#00B050" stroke-width="2.5"/>
<circle cx="327.11" cy="501.60" r="4.45" fill="#5B9BD5" stroke="#00B050" stroke-width="2.5"/>
<circle cx="333.16" cy="618.07" r="4.45" fill="#5B9BD5" stroke="#00B050" stroke-width="2.5"/>
<circle cx="339.22" cy="488.63" r="4.45" fill="#5B9BD5" stroke="#00B050" stroke-width="2.5"/>
<circle cx="345.28" cy="562.94" r="4.45" fill="#5B9BD5" stroke="#00B050" stroke-width="2.5"/>
<circle cx="351.34" cy="564.85" r="4.45" fill="#5B9BD5" stroke="#00B050" stroke-width="2.5"/>
<circle cx="357.39" cy="559.10" r="4.45" fill="#5B9BD5" stroke="#00B050" stroke-width="2.5"/>
<circle cx="363.45" cy="542.19" r="4.45" fill="#5B9BD5" stroke="#00B050" stroke-width="2.5"/>
<circle cx="369.51" cy="523.92" r="4.45" fill="#5B9BD5" stroke="#00B050" stroke-width="2.5"/>
<circle cx="375.56" cy="475.55" r="4.45" fill="#5B9BD5" stroke="#00B050" stroke-width="2.5"/>
<circle cx="381.62" cy="523.25" r="4.45" fill="#5B9BD5" stroke="#00B050" stroke-width="2.5"/>
<circle cx="387.68" cy="660.80" r="4.45" fill="#5B9BD5" stroke="#00B050" stroke-width="2.5"/>
<circle cx="393.73" cy="596.31" r="4.45" fill="#5B9BD5" stroke="#00B050" stroke-width="2.5"/>
<circle cx="399.79" cy="495.96" r="4.45" fill="#5B9BD5" stroke="#00B050" stroke-width="2.5"/>
<circle cx="405.85" cy="596.87" r="4.45" fill="#5B9BD5" stroke="#00B050" stroke-width="2.5"/>
<circle cx="411.91" cy="552.34" r="4.45" fill="#5B9BD5" stroke="#00B050" stroke-width="2.5"/>
<circle cx="417.96" cy="512.88" r="4.45" fill="#5B9BD5" stroke="#00B050" stroke-width="2.5"/>
<circle cx="424.02" cy="598.79" r="4.45" fill="#5B9BD5" stroke="#00B050" stroke-width="2.5"/>
<circle cx="430.08" cy="528.32" r="4.45" fill="#5B9BD5" stroke="#00B050" stroke-width="2.5"/>
<circle cx="436.13" cy="552.79" r="4.45" fill="#5B9BD5" stroke="#00B050" stroke-width="2.5"/>
<circle cx="442.19" cy="560.91" r="4.45" fill="#5B9BD5" stroke="#00B050" stroke-width="2.5"/>
<circle cx="448.25" cy="618.86" r="4.45" fill="#5B9BD5" stroke="#00B050" stroke-width="2.5"/>
<circle cx="454.30" cy="536.67" r="4.45" fill="#5B9BD5" stroke="#00B050" stroke-width="2.5"/>
<circle cx="460.36" cy="563.95" r="4.45" fill="#5B9BD5" stroke="#00B050" stroke-width="2.5"/>
<circle cx="466.42" cy="609.95" r="4.45" fill="#5B9BD5" stroke="#00B050" stroke-width="2.5"/>
<circle cx="472.48" cy="562.03" r="4.45" fill="#5B9BD5" stroke="#00B050" stroke-width="2.5"/>
<circle cx="478.53" cy="503.40" r="4.45" fill="#5B9BD5" stroke="#00B050" stroke-width="2.5"/>
<circle cx="484.59" cy="587.63" r="4.45" fill="#5B9BD5" stroke="#00B050" stroke-width="2.5"/>
<circle cx="490.65" cy="572.75" r="4.45" fill="#5B9BD5" stroke="#00B050" stroke-width="2.5"/>
<circle cx="496.70" cy="509.94" r="4.45" fill="#5B9BD5" stroke="#00B050" stroke-width="2.5"/>
<circle cx="502.76" cy="571.39" r="4.45" fill="#5B9BD5" stroke="#00B050" stroke-width="2.5"/>
<circle cx="508.82" cy="572.75" r="4.45" fill="#5B9BD5" stroke="#00B050" stroke-width="2.5"/>
<circle cx="514.87" cy="604.54" r="4.45" fill="#5B9BD5" stroke="#00B050" stroke-width="2.5"/>
<circle cx="520.93" cy="526.74" r="4.45" fill="#5B9BD5" stroke="#00B050" stroke-width="2.5"/>
<circle cx="526.99" cy="567.90" r="4.45" fill="#5B9BD5" stroke="#00B050" stroke-width="2.5"/>
<circle cx="533.05" cy="546.70" r="4.45" fill="#5B9BD5" stroke="#00B050" stroke-width="2.5"/>
<circle cx="539.10" cy="555.27" r="4.45" fill="#5B9BD5" stroke="#00B050" stroke-width="2.5"/>
<circle cx="545.16" cy="589.66" r="4.45" fill="#5B9BD5" stroke="#00B050" stroke-width="2.5"/>
<circle cx="551.22" cy="564.85" r="4.45" fill="#5B9BD5" stroke="#00B050" stroke-width="2.5"/>
<circle cx="557.27" cy="542.19" r="4.45" fill="#5B9BD5" stroke="#00B050" stroke-width="2.5"/>
<circle cx="563.33" cy="553.47" r="4.45" fill="#5B9BD5" stroke="#00B050" stroke-width="2.5"/>
<circle cx="569.39" cy="522.80" r="4.45" fill="#5B9BD5" stroke="#00B050" stroke-width="2.5"/>
<circle cx="575.44" cy="606.91" r="4.45" fill="#5B9BD5" stroke="#00B050" stroke-width="2.5"/>
<circle cx="581.50" cy="533.96" r="4.45" fill="#5B9BD5" stroke="#00B050" stroke-width="2.5"/>
<circle cx="587.56" cy="529.00" r="4.45" fill="#5B9BD5" stroke="#00B050" stroke-width="2.5"/>
<circle cx="593.62" cy="542.19" r="4.45" fill="#5B9BD5" stroke="#00B050" stroke-width="2.5"/>
<circle cx="599.67" cy="593.15" r="4.45" fill="#5B9BD5" stroke="#00B050" stroke-width="2.5"/>
<circle cx="605.73" cy="541.06" r="4.45" fill="#5B9BD5" stroke="#00B050" stroke-width="2.5"/>
<circle cx="611.79" cy="512.99" r="4.45" fill="#5B9BD5" stroke="#00B050" stroke-width="2.5"/>
<circle cx="617.84" cy="557.41" r="4.45" fill="#5B9BD5" stroke="#00B050" stroke-width="2.5"/>
<circle cx="623.90" cy="527.42" r="4.45" fill="#5B9BD5" stroke="#00B050" stroke-width="2.5"/>
<circle cx="629.96" cy="550.42" r="4.45" fill="#5B9BD5" stroke="#00B050" stroke-width="2.5"/>
<circle cx="636.01" cy="573.42" r="4.45" fill="#5B9BD5" stroke="#00B050" stroke-width="2.5"/>
<circle cx="642.07" cy="564.85" r="4.45" fill="#5B9BD5" stroke="#00B050" stroke-width="2.5"/>
<circle cx="648.13" cy="537.12" r="4.45" fill="#5B9BD5" stroke="#00B050" stroke-width="2.5"/>
<circle cx="654.19" cy="560.68" r="4.45" fill="#5B9BD5" stroke="#00B050" stroke-width="2.5"/>
<circle cx="660.24" cy="598.11" r="4.45" fill="#5B9BD5" stroke="#00B050" stroke-width="2.5"/>
<circle cx="666.30" cy="577.37" r="4.45" fill="#5B9BD5" stroke="#00B050" stroke-width="2.5"/>
<line x1="66.66" x2="666.30" y1="546.36" y2="546.36" stroke="#7030A0" stroke-width="3"/>
<circle cx="66.66" cy="546.36" r="5.5" fill="#7030A0"/>
<circle cx="72.71" cy="546.36" r="5.5" fill="#7030A0"/>
<circle cx="78.77" cy="546.36" r="5.5" fill="#7030A0"/>
<circle cx="84.83" cy="546.36" r="5.5" fill="#7030A0"/>
<circle cx="90.88" cy="546.36" r="5.5" fill="#7030A0"/>
<circle cx="96.94" cy="546.36" r="5.5" fill="#7030A0"/>
<circle cx="103.00" cy="546.36" r="5.5" fill="#7030A0"/>
<circle cx="109.06" cy="546.36" r="5.5" fill="#7030A0"/>
<circle cx="115.11" cy="546.36" r="5.5" fill="#7030A0"/>
<circle cx="121.17" cy="546.36" r="5.5" fill="#7030A0"/>
<circle cx="127.23" cy="546.36" r="5.5" fill="#7030A0"/>
<circle cx="133.28" cy="546.36" r="5.5" fill="#7030A0"/>
<circle cx="139.34" cy="546.36" r="5.5" fill="#7030A0"/>
<circle cx="145.40" cy="546.36" r="5.5" fill="#7030A0"/>
<circle cx="151.45" cy="546.36" r="5.5" fill="#7030A0"/>
<circle cx="157.51" cy="546.36" r="5.5" fill="#7030A0"/>
<circle cx="163.57" cy="546.36" r="5.5" fill="#7030A0"/>
<circle cx="169.63" cy="546.36" r="5.5" fill="#7030A0"/>
<circle cx="175.68" cy="546.36" r="5.5" fill="#7030A0"/>
<circle cx="181.74" cy="546.36" r="5.5" fill="#7030A0"/>
<circle cx="187.80" cy="546.36" r="5.5" fill="#7030A0"/>
<circle cx="193.85" cy="546.36" r="5.5" fill="#7030A0"/>
<circle cx="199.91" cy="546.36" r="5.5" fill="#7030A0"/>
<circle cx="205.97" cy="546.36" r="5.5" fill="#7030A0"/>
<circle cx="212.02" cy="546.36" r="5.5" fill="#7030A0"/>
<circle cx="218.08" cy="546.36" r="5.5" fill="#7030A0"/>
<circle cx="224.14" cy="546.36" r="5.5" fill="#7030A0"/>
<circle cx="230.20" cy="546.36" r="5.5" fill="#7030A0"/>
<circle cx="236.25" cy="546.36" r="5.5" fill="#7030A0"/>
<circle cx="242.31" cy="546.36" r="5.5" fill="#7030A0"/>
<circle cx="248.37" cy="546.36" r="5.5" fill="#7030A0"/>
<circle cx="254.42" cy="546.36" r="5.5" fill="#7030A0"/>
<circle cx="260.48" cy="546.36" r="5.5" fill="#7030A0"/>
<circle cx="266.54" cy="546.36" r="5.5" fill="#7030A0"/>
<circle cx="272.59" cy="546.36" r="5.5" fill="#7030A0"/>
<circle cx="278.65" cy="546.36" r="5.5" fill="#7030A0"/>
<circle cx="284.71" cy="546.36" r="5.5" fill="#7030A0"/>
<circle cx="290.77" cy="546.36" r="5.5" fill="#7030A0"/>
<circle cx="296.82" cy="546.36" r="5.5" fill="#7030A0"/>
<circle cx="302.88" cy="546.36" r="5.5" fill="#7030A0"/>
<circle cx="308.94" cy="546.36" r="5.5" fill="#7030A0"/>
<circle cx="314.99" cy="546.36" r="5.5" fill="#7030A0"/>
<circle cx="321.05" cy="546.36" r="5.5" fill="#7030A0"/>
<circle cx="327.11" cy="546.36" r="5.5" fill="#7030A0"/>
<circle cx="333.16" cy="546.36" r="5.5" fill="#7030A0"/>
<circle cx="339.22" cy="546.36" r="5.5" fill="#7030A0"/>
<circle cx="345.28" cy="546.36" r="5.5" fill="#7030A0"/>
<circle cx="351.34" cy="546.36" r="5.5" fill="#7030A0"/>
<circle cx="357.39" cy="546.36" r="5.5" fill="#7030A0"/>
<circle cx="363.45" cy="546.36" r="5.5" fill="#7030A0"/>
<circle cx="369.51" cy="546.36" r="5.5" fill="#7030A0"/>
<circle cx="375.56" cy="546.36" r="5.5" fill="#7030A0"/>
<circle cx="381.62" cy="546.36" r="5.5" fill="#7030A0"/>
<circle cx="387.68" cy="546.36" r="5.5" fill="#7030A0"/>
<circle cx="393.73" cy="546.36" r="5.5" fill="#7030A0"/>
<circle cx="399.79" cy="546.36" r="5.5" fill="#7030A0"/>
<circle cx="405.85" cy="546.36" r="5.5" fill="#7030A0"/>
<circle cx="411.91" cy="546.36" r="5.5" fill="#7030A0"/>
<circle cx="417.96" cy="546.36" r="5.5" fill="#7030A0"/>
<circle cx="424.02" cy="546.36" r="5.5" fill="#7030A0"/>
<circle cx="430.08" cy="546.36" r="5.5" fill="#7030A0"/>
<circle cx="436.13" cy="546.36" r="5.5" fill="#7030A0"/>
<circle cx="442.19" cy="546.36" r="5.5" fill="#7030A0"/>
<circle cx="448.25" cy="546.36" r="5.5" fill="#7030A0"/>
<circle cx="454.30" cy="546.36" r="5.5" fill="#7030A0"/>
<circle cx="460.36" cy="546.36" r="5.5" fill="#7030A0"/>
<circle cx="466.42" cy="546.36" r="5.5" fill="#7030A0"/>
<circle cx="472.48" cy="546.36" r="5.5" fill="#7030A0"/>
<circle cx="478.53" cy="546.36" r="5.5" fill="#7030A0"/>
<circle cx="484.59" cy="546.36" r="5.5" fill="#7030A0"/>
<circle cx="490.65" cy="546.36" r="5.5" fill="#7030A0"/>
<circle cx="496.70" cy="546.36" r="5.5" fill="#7030A0"/>
<circle cx="502.76" cy="546.36" r="5.5" fill="#7030A0"/>
<circle cx="508.82" cy="546.36" r="5.5" fill="#7030A0"/>
<circle cx="514.87" cy="546.36" r="5.5" fill="#7030A0"/>
<circle cx="520.93" cy="546.36" r="5.5" fill="#7030A0"/>
<circle cx="526.99" cy="546.36" r="5.5" fill="#7030A0"/>
<circle cx="533.05" cy="546.36" r="5.5" fill="#7030A0"/>
<circle cx="539.10" cy="546.36" r="5.5" fill="#7030A0"/>
<circle cx="545.16" cy="546.36" r="5.5" fill="#7030A0"/>
<circle cx="551.22" cy="546.36" r="5.5" fill="#7030A0"/>
<circle cx="557.27" cy="546.36" r="5.5" fill="#7030A0"/>
<circle cx="563.33" cy="546.36" r="5.5" fill="#7030A0"/>
<circle cx="569.39" cy="546.36" r="5.5" fill="#7030A0"/>
<circle cx="575.44" cy="546.36" r="5.5" fill="#7030A0"/>
<circle cx="581.50" cy="546.36" r="5.5" fill="#7030A0"/>
<circle cx="587.56" cy="546.36" r="5.5" fill="#7030A0"/>
<circle cx="593.62" cy="546.36" r="5.5" fill="#7030A0"/>
<circle cx="599.67" cy="546.36" r="5.5" fill="#7030A0"/>
<circle cx="605.73" cy="546.36" r="5.5" fill="#7030A0"/>
<circle cx="611.79" cy="546.36" r="5.5" fill="#7030A0"/>
<circle cx="617.84" cy="546.36" r="5.5" fill="#7030A0"/>
<circle cx="623.90" cy="546.36" r="5.5" fill="#7030A0"/>
<circle cx="629.96" cy="546.36" r="5.5" fill="#7030A0"/>
<circle cx="636.01" cy="546.36" r="5.5" fill="#7030A0"/>
<circle cx="642.07" cy="546.36" r="5.5" fill="#7030A0"/>
<circle cx="648.13" cy="546.36" r="5.5" fill="#7030A0"/>
<circle cx="654.19" cy="546.36" r="5.5" fill="#7030A0"/>
<circle cx="660.24" cy="546.36" r="5.5" fill="#7030A0"/>
<circle cx="666.30" cy="546.36" r="5.5" fill="#7030A0"/>
<text x="88.4" y="426.7" font-size="15.8" text-anchor="start" font-weight="bold" fill="#595959" textLength="129" lengthAdjust="spacingAndGlyphs">mean KS: 31.3%</text>
<text x="224.2" y="426.7" font-size="15.8" text-anchor="start" font-weight="bold" fill="#595959" textLength="144.2" lengthAdjust="spacingAndGlyphs">median KS: 31.1%</text>
<text x="377.2" y="426.7" font-size="15.8" text-anchor="start" font-weight="bold" fill="#595959" textLength="211.2" lengthAdjust="spacingAndGlyphs">standard deviation: 3.14%</text>
<text x="346.5" y="738.5" font-size="15.8" text-anchor="start" font-weight="bold" fill="#595959" textLength="33.5" lengthAdjust="spacingAndGlyphs">Trial</text>
<text transform="translate(17.0,633) rotate(-90)" font-size="15.8" font-weight="bold" fill="#595959" textLength="125.3" lengthAdjust="spacingAndGlyphs">CV mean KS (%)</text>
<line x1="204.4" x2="243.4" y1="762.9" y2="762.9" stroke="#00B050" stroke-width="2.8"/><circle cx="223.7" cy="762.9" r="4.45" fill="#5B9BD5" stroke="#00B050" stroke-width="2.5"/>
<text x="246.3" y="768.4" font-size="15.6" text-anchor="start" font-weight="normal" fill="#595959" textLength="18.4" lengthAdjust="spacingAndGlyphs">KS</text>
<line x1="285.6" x2="324.5" y1="762.9" y2="762.9" stroke="#7030A0" stroke-width="3"/><circle cx="304.9" cy="762.9" r="5.4" fill="#7030A0"/>
<text x="329.3" y="768.4" font-size="15.6" text-anchor="start" font-weight="normal" fill="#595959" textLength="145" lengthAdjust="spacingAndGlyphs">Baseline KS (32.03%)</text>
</g></svg></body></html>
